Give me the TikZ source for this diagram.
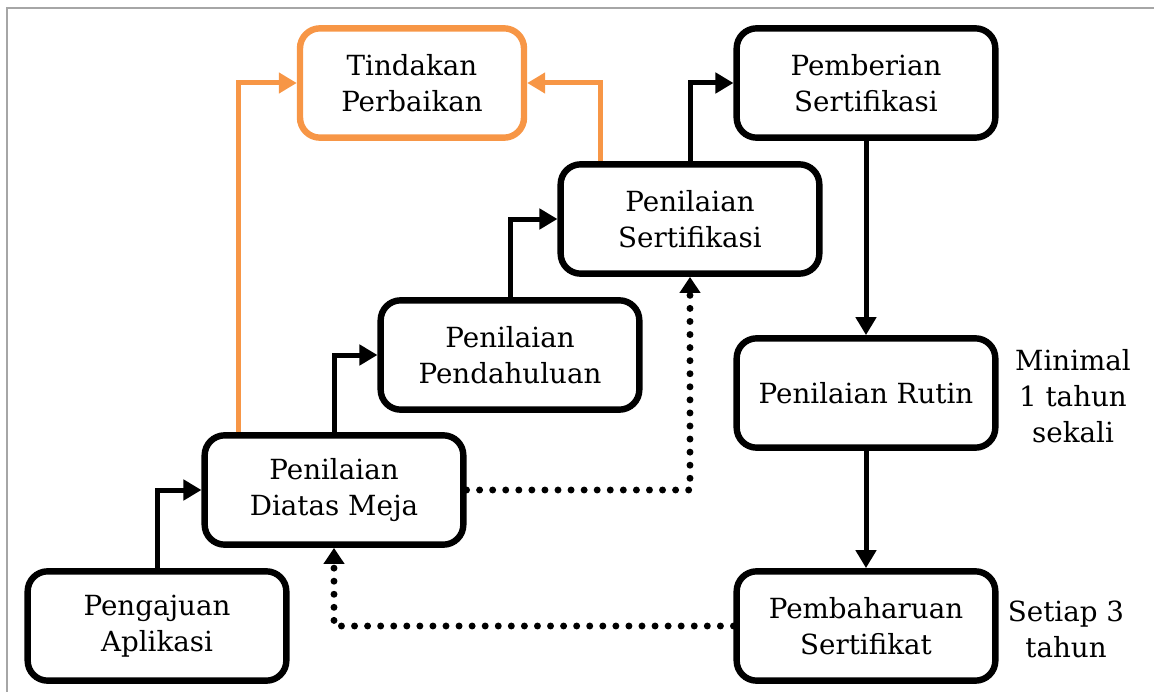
\documentclass[tikz,border=0pt]{standalone}
\usepackage{fontspec}
\setmainfont{DejaVu Serif}
\usetikzlibrary{arrows.meta}
\definecolor{orng}{RGB}{247,150,70}
\tikzset{
  box/.style={draw=black, line width=4.8pt, rounded corners=15pt, minimum width=194pt, minimum height=82pt, align=center, font=\fontsize{20.8}{27}\selectfont, inner sep=2pt},
  obox/.style={box, draw=orng, minimum width=168pt},
  conn/.style={line width=3.75pt, -{Triangle[length=13.5pt,width=15pt]}},
  oconn/.style={conn, draw=orng, -{Triangle[length=13.5pt,width=15pt,fill=orng]}},
  dconn/.style={line width=5.2pt, line cap=round, dash pattern=on 0pt off 9.8pt, -{Triangle[length=12pt,width=15pt,line cap=butt]}},
  lbl/.style={align=center, font=\fontsize{20.8}{27}\selectfont}
}
\begin{document}
\begin{tikzpicture}[x=0.75pt,y=-0.75pt]
\useasboundingbox (0,0) rectangle (1154,692);
\draw[gray!70, line width=1.4pt] (7,692) -- (7,8) -- (1154,8);
\node[box] (pa) at (157,626) {Pengajuan\\Aplikasi};
\node[box] (dm) at (334,490) {Penilaian\\Diatas Meja};
\node[box] (pp) at (510,355) {Penilaian\\Pendahuluan};
\node[box] (ps) at (690,219) {Penilaian\\Sertifikasi};
\node[obox] (tp) at (412,83) {Tindakan\\Perbaikan};
\node[box] (pm) at (866,83) {Pemberian\\Sertifikasi};
\node[box] (pr) at (866,393) {Penilaian Rutin};
\node[box] (pb) at (866,626) {Pembaharuan\\Sertifikat};
\node[lbl] (l1) at (1073,396) {Minimal\\1 tahun\\sekali};
\node[lbl] (l2) at (1066,629) {Setiap 3\\tahun};
\draw[conn] (pa.north) |- (dm.west);
\draw[conn] (dm.north) |- (pp.west);
\draw[conn] (pp.north) |- (ps.west);
\draw[conn] (ps.north) |- (pm.west);
\draw[oconn] ([xshift=27.75pt]dm.north west) |- (tp.west);
\draw[oconn] ([xshift=32pt]ps.north west) |- (tp.east);
\draw[conn] (pm.south) -- (pr.north);
\draw[conn] (pr.south) -- (pb.north);
\draw[dconn] (dm.east) -| (ps.south);
\draw[dconn] (pb.west) -| (dm.south);
\end{tikzpicture}
\end{document}
